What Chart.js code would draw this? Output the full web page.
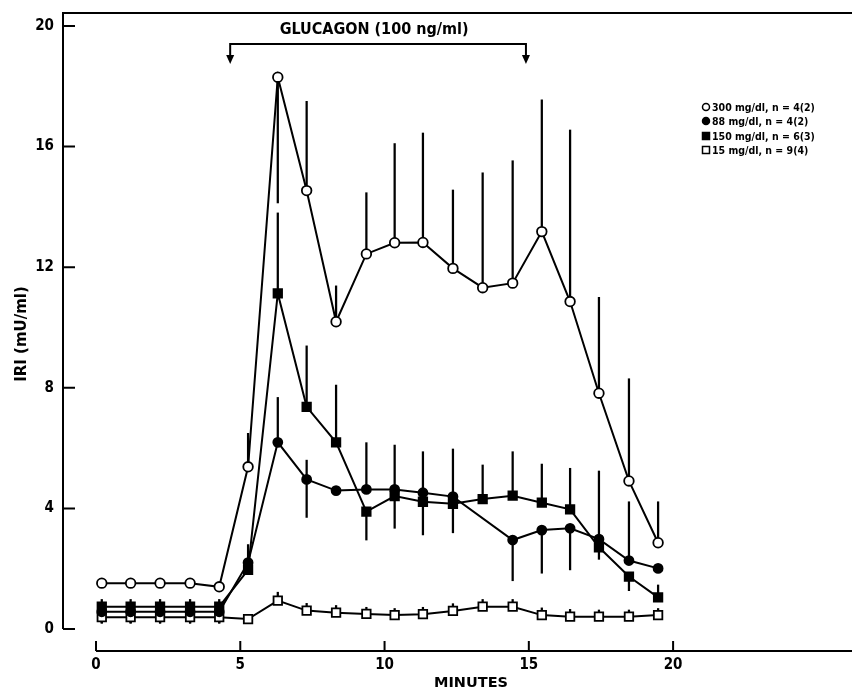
<!DOCTYPE html>
<html>
<head>
<meta charset="utf-8">
<script src="https://cdn.jsdelivr.net/npm/chart.js@4.4.1/dist/chart.umd.min.js"></script>
<style>
  html, body { margin: 0; padding: 0; background: #fff; }
  #wrap { width: 852px; height: 691px; }
</style>
</head>
<body>
<div id="wrap"><canvas id="myChart" width="852" height="691"></canvas></div>
<script>
// sampling times (minutes)
const minutes = [0.2, 1.2, 2.22, 3.26, 4.27, 5.27, 6.3, 7.3, 8.32, 9.37, 10.35, 11.33, 12.37, 13.4, 14.44, 15.45, 16.43, 17.43, 18.47, 19.48];

// 300 mg/dl  (open circles)
const iri300   = [1.52, 1.52, 1.52, 1.52, 1.40, 5.38, 18.3, 14.54, 10.19, 12.44, 12.81, 12.82, 11.96, 11.32, 11.47, 13.18, 10.86, 7.82, 4.91, 2.86];
const iri300Hi = [1.65, 1.65, 1.65, 1.65, 1.55, 6.49, null, 17.5, 11.38, 14.47, 16.1, 16.45, 14.56, 15.13, 15.53, 17.55, 16.55, 11.0, 8.3, 4.22];
const iri300Lo = [1.38, 1.38, 1.38, 1.38, 1.26, null, 14.13, null, null, null, null, null, null, null, null, null, null, null, null, null];

// 88 mg/dl  (filled circles)
const iri88   = [0.57, 0.57, 0.57, 0.57, 0.57, 2.2, 6.19, 4.96, 4.59, 4.63, 4.63, 4.52, 4.39, null, 2.95, 3.28, 3.34, 2.98, 2.27, 2.01];
const iri88Hi = [null, null, null, null, null, 2.8, 7.68, 5.6, null, 6.18, 6.1, 5.88, 5.97, null, null, null, null, 5.24, 4.22, null];
const iri88Lo = [0.2, 0.2, 0.2, 0.2, 0.2, null, null, 3.7, null, null, null, null, null, null, 1.6, 1.85, 1.96, null, null, null];

// 150 mg/dl  (filled squares)
const iri150   = [0.74, 0.74, 0.74, 0.74, 0.74, 1.96, 11.13, 7.37, 6.19, 3.89, 4.41, 4.22, 4.15, 4.31, 4.42, 4.19, 3.97, 2.71, 1.74, 1.05];
const iri150Hi = [0.98, 0.98, 0.98, 0.98, 0.98, null, 13.8, 9.39, 8.09, null, null, null, null, 5.44, 5.88, 5.47, 5.33, null, null, 1.46];
const iri150Lo = [null, null, null, null, null, null, null, null, null, 2.95, 3.34, 3.12, 3.19, null, null, null, null, 2.31, 1.27, null];

// 15 mg/dl  (open squares)
const iri15   = [0.39, 0.39, 0.39, 0.39, 0.39, 0.33, 0.94, 0.61, 0.54, 0.50, 0.46, 0.49, 0.60, 0.74, 0.74, 0.46, 0.41, 0.41, 0.41, 0.46];
const iri15Hi = [0.57, 0.57, 0.57, 0.57, 0.57, null, 1.22, 0.85, 0.78, 0.72, 0.68, 0.72, 0.84, 0.98, 0.98, 0.70, 0.65, 0.63, 0.63, 0.68];
const iri15Lo = [0.19, 0.19, 0.19, 0.19, 0.19, null, null, null, null, null, null, null, null, null, null, null, null, null, null, null];

const seriesLabels = ['300 mg/dl, n = 4(2)', '88 mg/dl, n = 4(2)', '150 mg/dl, n = 6(3)', '15 mg/dl, n = 9(4)'];
const xTickValues = [0, 5, 10, 15, 20];
const yTickValues = [0, 4, 8, 12, 16, 20];
const glucagonStart = 4.65;
const glucagonEnd = 14.9;
const glucagonText = 'GLUCAGON (100 ng/ml)';

const FONT = '"DejaVu Sans Condensed", "DejaVu Sans", sans-serif';
const WIDE = '"DejaVu Sans", sans-serif';

function pts(vals) {
  return vals.map((v, i) => ({ x: minutes[i], y: v }));
}
function bars(vals, hi, lo) {
  let out = [];
  for (let i = 0; i < vals.length; i++) {
    if (hi[i] == null && lo[i] == null) continue;
    let v = vals[i];
    out.push({ x: minutes[i], y: [lo[i] == null ? v : lo[i], hi[i] == null ? v : hi[i]] });
  }
  return out;
}
function lineSet(label, vals, style, filled, radius) {
  return {
    type: 'line', label: label, data: pts(vals), order: 1,
    borderColor: '#000', borderWidth: 2, spanGaps: true,
    pointStyle: style, pointRadius: radius, pointBorderWidth: 1.8,
    pointBackgroundColor: filled ? '#000' : '#fff', pointBorderColor: '#000',
    tension: 0
  };
}
function barSet(vals, hi, lo) {
  return {
    type: 'bar', label: '', data: bars(vals, hi, lo), order: 5,
    backgroundColor: '#000', barThickness: 1.6, grouped: false, borderWidth: 0
  };
}

const framePlugin = {
  id: 'frame',
  beforeDatasetsDraw(chart) {
    const { ctx, chartArea: a, scales: { x, y } } = chart;
    ctx.save();
    ctx.strokeStyle = '#000';
    ctx.lineWidth = 2;
    ctx.beginPath();
    ctx.moveTo(a.right, a.top);
    ctx.lineTo(a.left, a.top);
    ctx.lineTo(a.left, y.getPixelForValue(0));
    yTickValues.forEach(v => {
      let p = y.getPixelForValue(v);
      ctx.moveTo(a.left, p);
      ctx.lineTo(a.left + 12, p);
    });
    ctx.moveTo(x.getPixelForValue(0), a.bottom);
    ctx.lineTo(a.right, a.bottom);
    xTickValues.forEach(v => {
      let p = x.getPixelForValue(v);
      ctx.moveTo(p, a.bottom);
      ctx.lineTo(p, a.bottom - 10);
    });
    ctx.stroke();

    // glucagon bracket
    let gx1 = x.getPixelForValue(glucagonStart), gx2 = x.getPixelForValue(glucagonEnd);
    let gy = 44, gb = 64;
    ctx.beginPath();
    ctx.moveTo(gx1, gb - 6); ctx.lineTo(gx1, gy); ctx.lineTo(gx2, gy); ctx.lineTo(gx2, gb - 6);
    ctx.stroke();
    ctx.fillStyle = '#000';
    [gx1, gx2].forEach(gx => {
      ctx.beginPath();
      ctx.moveTo(gx - 4, gb - 9); ctx.lineTo(gx + 4, gb - 9); ctx.lineTo(gx, gb);
      ctx.closePath();
      ctx.fill();
    });
    ctx.font = 'bold 16px ' + FONT;
    ctx.textAlign = 'center';
    ctx.textBaseline = 'middle';
    ctx.fillText(glucagonText, (gx1 + gx2) / 2 - 4, 30);

    // axis titles
    ctx.font = 'bold 14.5px ' + WIDE;
    ctx.fillText('MINUTES', 471, 683);
    ctx.save();
    ctx.translate(22, 334);
    ctx.rotate(-Math.PI / 2);
    ctx.font = 'bold 15px ' + WIDE;
    ctx.fillText('IRI (mU/ml)', 0, 0);
    ctx.restore();

    // legend
    const rowsY = [107, 121, 136, 150];
    const mk = [['circle', false], ['circle', true], ['rect', true], ['rect', false]];
    ctx.font = 'bold 10.5px ' + FONT;
    ctx.textAlign = 'left';
    rowsY.forEach((ry, i) => {
      let mx = 706;
      ctx.beginPath();
      if (mk[i][0] === 'circle') ctx.arc(mx, ry, 3.5, 0, Math.PI * 2);
      else ctx.rect(mx - 3.5, ry - 3.5, 7, 7);
      ctx.fillStyle = mk[i][1] ? '#000' : '#fff';
      ctx.fill();
      ctx.lineWidth = 1.5;
      ctx.stroke();
      ctx.fillStyle = '#000';
      ctx.fillText(seriesLabels[i], 712, ry + 1);
    });
    ctx.restore();
  }
};

let ch = document.getElementById('myChart');
new Chart(ch, {
  type: 'line',
  data: {
    datasets: [
      barSet(iri300, iri300Hi, iri300Lo),
      barSet(iri88, iri88Hi, iri88Lo),
      barSet(iri150, iri150Hi, iri150Lo),
      barSet(iri15, iri15Hi, iri15Lo),
      lineSet(seriesLabels[0], iri300, 'circle', false, 4.8),
      lineSet(seriesLabels[1], iri88, 'circle', true, 4.5),
      lineSet(seriesLabels[2], iri150, 'rect', true, 6),
      lineSet(seriesLabels[3], iri15, 'rect', false, 6)
    ]
  },
  options: {
    responsive: false,
    animation: false,
    devicePixelRatio: 1,
    layout: { autoPadding: false, padding: { left: 0, top: 13, right: 0, bottom: 0 } },
    plugins: { legend: { display: false }, tooltip: { enabled: false } },
    scales: {
      x: {
        type: 'linear', min: -1.144, max: 26.2, offset: false,
        grid: { display: false, drawTicks: false }, border: { display: false },
        afterBuildTicks: s => { s.ticks = xTickValues.map(v => ({ value: v })); },
        afterFit: s => { s.height = 40; s.paddingLeft = 0; s.paddingRight = 0; },
        ticks: { color: '#000', padding: 5, maxRotation: 0, font: { family: FONT, size: 15, weight: 'bold' } }
      },
      y: {
        type: 'linear', min: -0.73, max: 20.43,
        grid: { display: false, drawTicks: false }, border: { display: false },
        afterBuildTicks: s => { s.ticks = yTickValues.map(v => ({ value: v })); },
        afterFit: s => { s.width = 63; s.paddingTop = 0; s.paddingBottom = 0; },
        ticks: { color: '#000', padding: 9, font: { family: FONT, size: 15, weight: 'bold' } }
      }
    }
  },
  plugins: [framePlugin]
});
</script>
</body>
</html>
